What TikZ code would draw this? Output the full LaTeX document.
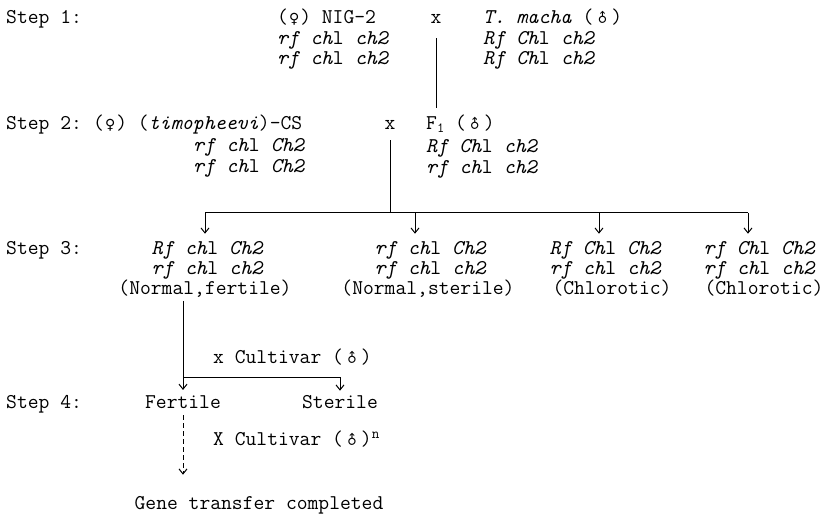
\documentclass[tikz,border=0pt]{standalone}
\usepackage{fontspec}
\usepackage{graphicx}
\newfontfamily\symfont{DejaVu Sans}
\usetikzlibrary{arrows.meta}
\newcommand{\femsym}{\hspace{1pt}{\symfont\fontsize{14}{14}\selectfont ♀}\hspace{1pt}}
\newcommand{\malsym}{\hspace{1.5pt}\raisebox{1pt}{\rotatebox[origin=c]{45}{\symfont\fontsize{13}{13}\selectfont ♂}}\hspace{1.5pt}}
\tikzset{
  txt/.style={inner sep=0pt, font=\ttfamily\addfontfeatures{LetterSpace=4.5}\fontsize{21}{22}\selectfont},
  gen/.style={inner sep=0pt, font=\ttfamily\addfontfeatures{LetterSpace=4.5}\fontsize{21}{22}\selectfont\itshape},
  ln/.style={line width=1pt},
  arr/.style={line width=1pt, -{Straight Barb[length=5pt,width=8pt]}},
}
\begin{document}
\begin{tikzpicture}[x=1pt,y=-1pt]
\fill[white] (0,0) rectangle (833,518);
\useasboundingbox (0,0) rectangle (833,518);

% Step 1
\node[txt,anchor=base west] (s1) at (6,24) {Step 1:};
\node[txt,anchor=base west] (p1) at (277,24) {(\femsym) NIG-2};
\node[gen,anchor=base west] (p1a) at (277,45) {rf ch\textup{l} ch2};
\node[gen,anchor=base west] (p1b) at (277,65) {rf ch\textup{l} ch2};
\node[txt,anchor=base] (x1) at (436,24) {x};
\node[txt,anchor=base west] (m1) at (483,24) {\textit{T. macha} (\malsym)};
\node[gen,anchor=base west] (m1a) at (483,45) {Rf Ch\textup{l} ch2};
\node[gen,anchor=base west] (m1b) at (483,65) {Rf Ch\textup{l} ch2};

% Step 2
\node[txt,anchor=base west] (s2) at (6,130) {Step 2:};
\node[txt,anchor=base west] (p2) at (93,130) {(\femsym) (\textit{timopheevi})-CS};
\node[gen,anchor=base west] (p2a) at (193,152) {rf ch\textup{l} Ch2};
\node[gen,anchor=base west] (p2b) at (193,173) {rf ch\textup{l} Ch2};
\node[txt,anchor=base] (x2) at (390,130) {x};
\node[txt,anchor=base west] (f1) at (426,130) {F\raisebox{-3pt}{\fontsize{14}{14}\selectfont 1} (\malsym)};
\node[gen,anchor=base west] (f1a) at (426,153) {Rf Ch\textup{l} ch2};
\node[gen,anchor=base west] (f1b) at (426,174) {rf ch\textup{l} ch2};

\draw[ln, shorten <=14pt, shorten >=7pt] (x1.south) -- (x1.south |- f1.north);

% Step 3
\node[txt,anchor=base west] (s3) at (6,255) {Step 3:};
\node[gen,anchor=base] (g1a) at (207,255) {Rf ch\textup{l} Ch2};
\node[gen,anchor=base] (g1b) at (207,275) {rf ch\textup{l} ch2};
\node[txt,anchor=base] (g1c) at (205,295) {(Normal,fertile)};
\node[gen,anchor=base] (g2a) at (430,255) {rf ch\textup{l} Ch2};
\node[gen,anchor=base] (g2b) at (430,275) {rf ch\textup{l} ch2};
\node[txt,anchor=base] (g2c) at (428,295) {(Normal,sterile)};
\node[gen,anchor=base] (g3a) at (605,255) {Rf Ch\textup{l} Ch2};
\node[gen,anchor=base] (g3b) at (605,275) {rf ch\textup{l} ch2};
\node[txt,anchor=base] (g3c) at (612,295) {(Chlorotic)};
\node[gen,anchor=base] (g4a) at (759,255) {rf Ch\textup{l} Ch2};
\node[gen,anchor=base] (g4b) at (759,275) {rf ch\textup{l} ch2};
\node[txt,anchor=base] (g4c) at (764,295) {(Chlorotic)};

\coordinate (j) at (390,213);
\coordinate (h1) at (205,213);
\coordinate (h2) at (415,213);
\coordinate (h3) at (599,213);
\coordinate (h4) at (748,213);
\draw[ln, shorten <=10pt] (x2.south) -- (j);
\draw[ln] (h1) -- (h4);
\draw[arr, shorten >=8pt] (h1) -- (h1 |- g1a.north);
\draw[arr, shorten >=8pt] (h2) -- (h2 |- g2a.north);
\draw[arr, shorten >=8pt] (h3) -- (h3 |- g3a.north);
\draw[arr, shorten >=8pt] (h4) -- (h4 |- g4a.north);

% Step 4
\node[txt,anchor=base west] (s4) at (6,409) {Step 4:};
\node[txt,anchor=base] (fer) at (183,409) {Fertile};
\node[txt,anchor=base] (ster) at (340,409) {Sterile};
\node[txt,anchor=base west] (cv1) at (213,364) {x Cultivar (\malsym)};
\node[txt,anchor=base west] (cv2) at (213,446) {X Cultivar (\malsym)\textsuperscript{n}};
\node[txt,anchor=base] (gene) at (259,509) {Gene transfer completed};

\coordinate (v0) at (183,301);
\coordinate (v1) at (183,378);
\draw[arr, shorten >=6pt] (v0) -- (fer.north);
\draw[arr, shorten >=5pt] (v1) -| (ster.north);
\draw[arr, dash pattern=on 5pt off 3pt, shorten <=6pt, shorten >=21pt] (fer.south) -- (fer.south |- gene.north);
\end{tikzpicture}
\end{document}
